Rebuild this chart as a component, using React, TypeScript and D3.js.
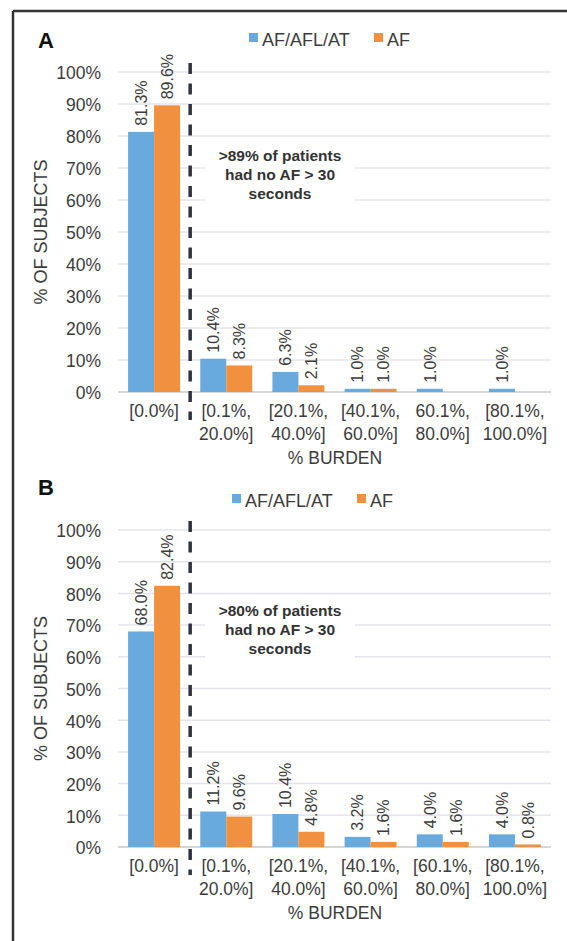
import React from "react";
import * as d3 from "d3";

// Burden bins shared by both panels (multi-line tick labels)
const categoriesA: string[][] = [
  ["[0.0%]"],
  ["[0.1%,", "20.0%]"],
  ["[20.1%,", "40.0%]"],
  ["[40.1%,", "60.0%]"],
  ["60.1%,", "80.0%]"],
  ["[80.1%,", "100.0%]"],
];
const categoriesB: string[][] = [
  ["[0.0%]"],
  ["[0.1%,", "20.0%]"],
  ["[20.1%,", "40.0%]"],
  ["[40.1%,", "60.0%]"],
  ["[60.1%,", "80.0%]"],
  ["[80.1%,", "100.0%]"],
];

const seriesNames = ["AF/AFL/AT", "AF"];
const seriesColors = ["#68aadd", "#f1913f"];

// Panel A values (% of subjects)
const panelA_afAflAt: (number | null)[] = [81.3, 10.4, 6.3, 1.0, 1.0, 1.0];
const panelA_af: (number | null)[] = [89.6, 8.3, 2.1, 1.0, null, null];

// Panel B values (% of subjects)
const panelB_afAflAt: (number | null)[] = [68.0, 11.2, 10.4, 3.2, 4.0, 4.0];
const panelB_af: (number | null)[] = [82.4, 9.6, 4.8, 1.6, 1.6, 0.8];

const yTicks = [0, 10, 20, 30, 40, 50, 60, 70, 80, 90, 100];

const noteA = [">89% of patients", "had no AF > 30", "seconds"];
const noteB = [">80% of patients", "had no AF > 30", "seconds"];

const FONT = "'Liberation Sans', Arial, Helvetica, sans-serif";
const TEXT = "#3c3c3c";

type PanelProps = {
  letter: string;
  letterY: number;
  legendX: number;
  legendY: number;
  yTop: number;
  yBottom: number;
  categories: string[][];
  values: (number | null)[][];
  note: string[];
  noteY: number;
};

function Panel(p: PanelProps) {
  const keys = p.categories.map((c) => c.join(" "));
  const x0 = d3
    .scaleBand<string>()
    .domain(keys)
    .range([118, 551])
    .paddingInner(0.28)
    .paddingOuter(0.14);
  const x1 = d3
    .scaleBand<string>()
    .domain(seriesNames)
    .range([0, x0.bandwidth()]);
  const y = d3.scaleLinear().domain([0, 100]).range([p.yBottom, p.yTop]);

  // Dashed divider between the first bin and the rest
  const divX = (x0(keys[0])! + x0.bandwidth() + x0(keys[1])!) / 2;

  return (
    <g>
      <text x={38} y={p.letterY} fontSize={22} fontWeight="bold" fill="#111" fontFamily={FONT}>
        {p.letter}
      </text>

      {/* legend */}
      <g fontFamily={FONT} fontSize={18} fill={TEXT}>
        <rect x={p.legendX} y={p.legendY - 13} width={9} height={9} fill={seriesColors[0]} />
        <text x={p.legendX + 13} y={p.legendY}>{seriesNames[0]}</text>
        <rect x={p.legendX + 125} y={p.legendY - 13} width={9} height={9} fill={seriesColors[1]} />
        <text x={p.legendX + 138} y={p.legendY}>{seriesNames[1]}</text>
      </g>

      {/* gridlines */}
      {yTicks.map((t) => (
        <line
          key={t}
          x1={118}
          x2={551}
          y1={y(t)}
          y2={y(t)}
          stroke={t === 0 ? "#d6d6d6" : "#e4e4ec"}
          strokeWidth={t === 0 ? 2 : 1.5}
        />
      ))}

      {/* y tick labels */}
      {yTicks.map((t) => (
        <text
          key={"l" + t}
          x={101}
          y={y(t)}
          dy="0.42em"
          textAnchor="end"
          fontSize={17.5}
          fill={TEXT}
          fontFamily={FONT}
        >
          {t}%
        </text>
      ))}

      {/* y axis title */}
      <text
        transform={`translate(41,${(p.yTop + p.yBottom) / 2}) rotate(-90)`}
        textAnchor="middle"
        dy="0.35em"
        fontSize={18}
        fill={TEXT}
        fontFamily={FONT}
      >
        % OF SUBJECTS
      </text>

      {/* bars and value labels */}
      {keys.map((k, i) => (
        <g key={k} transform={`translate(${x0(k)},0)`}>
          {seriesNames.map((s, j) => {
            const v = p.values[j][i];
            if (v === null) return null;
            const bx = x1(s)!;
            const cx = bx + x1.bandwidth() / 2;
            return (
              <g key={s}>
                <rect
                  x={bx}
                  y={y(v)}
                  width={x1.bandwidth()}
                  height={y(0) - y(v)}
                  fill={seriesColors[j]}
                />
                <text
                  transform={`translate(${cx},${y(v) - 6}) rotate(-90)`}
                  dy="0.36em"
                  fontSize={16}
                  fill={TEXT}
                  fontFamily={FONT}
                >
                  {v.toFixed(1)}%
                </text>
              </g>
            );
          })}
        </g>
      ))}

      {/* annotation box */}
      <rect x={205} y={p.noteY - 14} width={150} height={66} fill="#fff" />
      {p.note.map((line, i) => (
        <text
          key={i}
          x={280}
          y={p.noteY + i * 19}
          dy="0.36em"
          textAnchor="middle"
          fontSize={15.5}
          fontWeight="bold"
          fill="#333"
          fontFamily={FONT}
        >
          {line}
        </text>
      ))}

      <line
        x1={divX}
        x2={divX}
        y1={p.yTop - 9}
        y2={p.yBottom + 28}
        stroke="#2f3340"
        strokeWidth={3.5}
        strokeDasharray="11,9.5"
      />

      {/* category labels */}
      {p.categories.map((lines, i) => (
        <text
          key={i}
          x={x0(keys[i])! + x0.bandwidth() / 2}
          y={p.yBottom + 25}
          textAnchor="middle"
          fontSize={17.5}
          fill={TEXT}
          fontFamily={FONT}
        >
          {lines.map((l, li) => (
            <tspan key={li} x={x0(keys[i])! + x0.bandwidth() / 2} dy={li === 0 ? 0 : 23}>
              {l}
            </tspan>
          ))}
        </text>
      ))}

      <text
        x={335}
        y={p.yBottom + 72}
        textAnchor="middle"
        fontSize={17.5}
        fill={TEXT}
        fontFamily={FONT}
      >
        % BURDEN
      </text>
    </g>
  );
}

export default function App() {
  return (
    <div style={{ position: "absolute", left: 0, top: 0 }}>
      <svg width={567} height={941} style={{ display: "block", background: "#fff" }}>
        <line x1={13} x2={567} y1={11} y2={11} stroke="#333" strokeWidth={2.5} />
        <line x1={13} x2={13} y1={11} y2={941} stroke="#333" strokeWidth={2.5} />
        <Panel
          letter="A"
          letterY={48}
          legendX={249}
          legendY={46}
          yTop={72}
          yBottom={392}
          categories={categoriesA}
          values={[panelA_afAflAt, panelA_af]}
          note={noteA}
          noteY={155}
        />
        <Panel
          letter="B"
          letterY={495}
          legendX={232}
          legendY={507}
          yTop={530}
          yBottom={847}
          categories={categoriesB}
          values={[panelB_afAflAt, panelB_af]}
          note={noteB}
          noteY={610}
        />
      </svg>
    </div>
  );
}
